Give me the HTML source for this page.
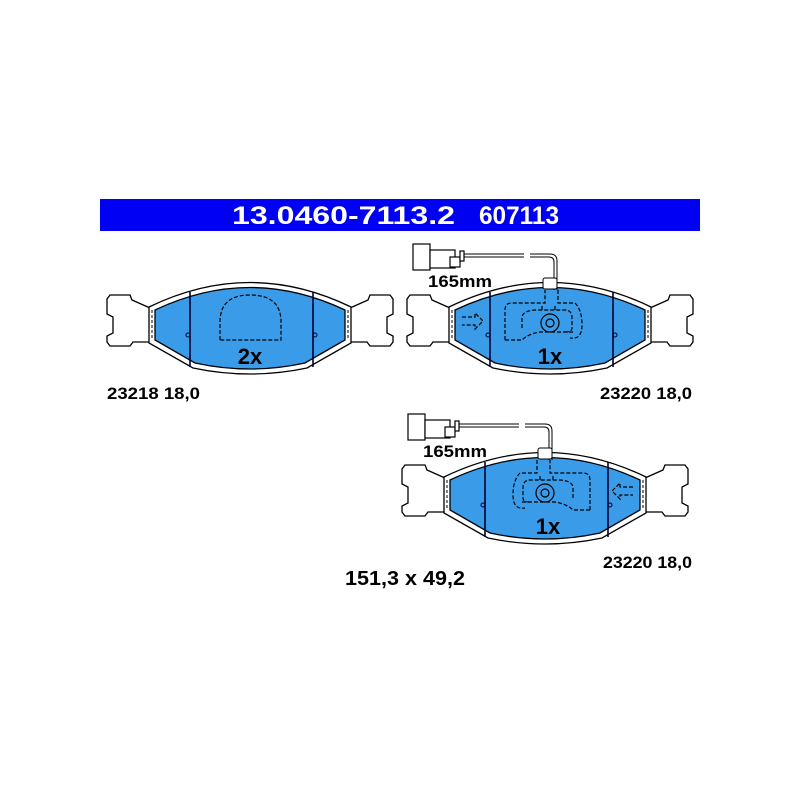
<!DOCTYPE html>
<html><head><meta charset="utf-8"><style>
html,body{margin:0;padding:0;background:#fff;width:800px;height:800px;overflow:hidden}
svg{display:block}
text{font-family:"Liberation Sans",Arial,sans-serif;font-weight:bold}
</style></head><body>
<svg width="800" height="800" viewBox="0 0 800 800" xmlns="http://www.w3.org/2000/svg">
<defs>
<g id="pad">
  <path d="M-100,-22 L-118,-30 L-120,-35 L-140,-35 L-143,-31 L-143,-16 L-137,-13 L-137,3 L-143,6 L-143,12 L-140,16 L-120,16 L-117,12 L-100,12 Z" fill="#fff" stroke="#000" stroke-width="1.3"/>
  <path d="M100,-22 L118,-30 L120,-35 L140,-35 L143,-31 L143,-16 L137,-13 L137,3 L143,6 L143,12 L140,16 L120,16 L117,12 L100,12 Z" fill="#fff" stroke="#000" stroke-width="1.3"/>
  <path d="M-101,-23 Q0,-72 101,-23 L101,13 L57,38 Q0,50 -57,38 L-101,13 Z" fill="#fff" stroke="#000" stroke-width="1.3"/>
  <path d="M-95,-20 Q0,-65 95,-20 L95,10 L55,33 Q0,45 -55,33 L-95,10 Z" fill="#3a9be8" stroke="#000" stroke-width="1.3"/>
  <line x1="-98" y1="-20" x2="-98" y2="10" stroke="#000" stroke-dasharray="3,2"/>
  <line x1="98" y1="-20" x2="98" y2="10" stroke="#000" stroke-dasharray="3,2"/>
  <line x1="-60" y1="-38" x2="-60" y2="37" stroke="#003" stroke-width="1.6"/>
  <line x1="63" y1="-38" x2="63" y2="37" stroke="#003" stroke-width="1.6"/>
  <circle cx="-62" cy="5" r="2" fill="none" stroke="#003"/>
  <circle cx="65" cy="5" r="2" fill="none" stroke="#003"/>
</g>
<g id="sensor">
  <rect x="-137" y="-86" width="17" height="26" fill="#fff" stroke="#000" stroke-width="1.2"/>
  <rect x="-120" y="-80" width="25" height="18" fill="#fff" stroke="#000" stroke-width="1.2"/>
  <rect x="-100" y="-73" width="10" height="10" fill="#fff" stroke="#000" stroke-width="1.2"/>
  <rect x="-90" y="-79" width="4" height="10" fill="#fff" stroke="#000" stroke-width="1.2"/>
  <path d="M-86,-76 H-26 M-86,-73 H-26" stroke="#000" fill="none"/>
  <path d="M-20,-76 H0 Q7,-76 7,-69 V-40 M-20,-73 H-1 Q4,-73 4,-68 V-40" stroke="#000" fill="none"/>
  <rect x="-7" y="-52" width="14" height="11" rx="2" fill="#fff" stroke="#000"/>
  <text x="-122" y="-43" font-size="17" textLength="64" lengthAdjust="spacingAndGlyphs">165mm</text>
</g>
<g id="inner" fill="none" stroke="#000" stroke-dasharray="4,2" stroke-width="1.2">
  <path d="M-45,10 V-20 Q-45,-27 -38,-27 H-5 V-40"/>
  <path d="M-45,10 H-28 Q-22,4 -10,2 H25"/>
  <path d="M8,-40 V-27 H25 Q32,-20 32,-5 Q32,10 20,8"/>
  <path d="M-28,-2 V-12 Q-28,-20 -12,-20 H15 Q22,-20 22,-12 V-2 Q22,2 15,2"/>
  <path d="M-8,-20 V-25 M5,-20 V-25"/>
  <circle cx="0" cy="-7" r="9" stroke-dasharray="none"/>
  <circle cx="0" cy="-7" r="4" stroke-dasharray="none"/>
  <path d="M-88,-13 H-75 V-17 L-67,-9 L-75,-1 V-5 H-88"/>
</g>
</defs>
<rect x="100" y="199" width="600" height="32" fill="#0000f2"/>
<text x="232" y="224" font-size="25" fill="#fff" textLength="223" lengthAdjust="spacingAndGlyphs">13.0460-7113.2</text>
<text x="479" y="224" font-size="25" fill="#fff" textLength="80" lengthAdjust="spacingAndGlyphs">607113</text>

<g transform="translate(250,330)">
  <use href="#pad"/>
  <path d="M-30,10 V-8 Q-30,-35 0,-35 Q31,-35 31,-8 V10 Z" fill="none" stroke="#000" stroke-dasharray="4,2" stroke-width="1.2"/>
  <text x="0" y="34" font-size="22" text-anchor="middle">2x</text>
</g>
<g transform="translate(550,330)">
  <use href="#pad"/>
  <use href="#inner"/>
  <use href="#sensor"/>
  <text x="0" y="34" font-size="22" text-anchor="middle">1x</text>
</g>
<g transform="translate(545,500)">
  <use href="#pad"/>
  <g transform="scale(-1,1)"><use href="#inner"/></g>
  <use href="#sensor"/>
  <text x="3" y="34" font-size="22" text-anchor="middle">1x</text>
</g>

<text x="107" y="399" font-size="17" textLength="93" lengthAdjust="spacingAndGlyphs">23218 18,0</text>
<text x="600" y="399" font-size="17" textLength="92" lengthAdjust="spacingAndGlyphs">23220 18,0</text>
<text x="603" y="568" font-size="17" textLength="89" lengthAdjust="spacingAndGlyphs">23220 18,0</text>
<text x="345" y="585" font-size="20" textLength="120" lengthAdjust="spacingAndGlyphs">151,3 x 49,2</text>
</svg>
</body></html>
